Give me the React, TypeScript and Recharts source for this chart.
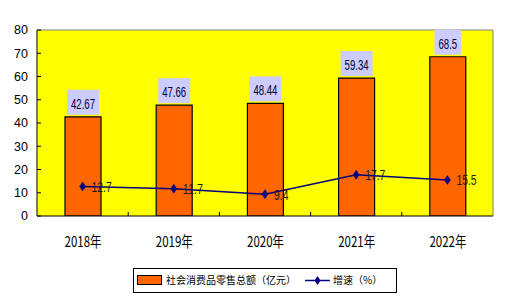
import React from 'react';
import {
  ComposedChart,
  Bar,
  Line,
  XAxis,
  YAxis,
  CartesianGrid,
  ReferenceLine,
  LabelList,
  Legend,
} from 'recharts';

const years = ['2018年', '2019年', '2020年', '2021年', '2022年'];
const sales = [42.67, 47.66, 48.44, 59.34, 68.5];
const growth = [12.7, 11.7, 9.4, 17.7, 15.5];
const yTicks = [0, 10, 20, 30, 40, 50, 60, 70, 80];
const salesName = '社会消费品零售总额（亿元）';
const growthName = '增速（%）';

const data = years.map((year, i) => ({
  x: i + 0.5,
  year,
  sales: sales[i],
  growth: growth[i],
}));

const xTicks: number[] = [];
for (let i = 0; i < years.length; i++) {
  xTicks.push(i + 0.5);
  if (i < years.length - 1) xTicks.push(i + 1);
}

const FONT = '"Liberation Sans", Arial, sans-serif';
const CJK = '"Noto Sans CJK SC", "Liberation Sans", sans-serif';

const textWidth = (s: string, digit: number, dot: number) =>
  s.split('').reduce((w, c) => w + (c === '.' ? dot : digit), 0);

const XTick = (props: any) => {
  const { x, y, payload } = props;
  const v = payload.value;
  if (Number.isInteger(v)) {
    return <line x1={x} x2={x} y1={y} y2={y - 4} stroke="#000" strokeWidth={1} />;
  }
  const label = years[Math.floor(v)];
  return (
    <text
      x={x - 18}
      y={y + 31}
      fontSize={15}
      fontFamily={CJK}
      fill="#000"
      textLength={37}
      lengthAdjust="spacingAndGlyphs"
    >
      {label}
    </text>
  );
};

const BarLabel = (props: any) => {
  const { x, y, width, value } = props;
  const s = String(value);
  const tw = textWidth(s, 5.3, 2.8);
  const bw = tw + 8;
  const cx = x + width / 2;
  return (
    <g>
      <rect x={cx - bw / 2} y={y - 27} width={bw} height={25} fill="#CCCCFF" />
      <text
        x={cx - tw / 2}
        y={y - 8}
        fontSize={15}
        fontFamily={FONT}
        fill="#000033"
        textLength={tw}
        lengthAdjust="spacingAndGlyphs"
      >
        {s}
      </text>
    </g>
  );
};

const LineLabel = (props: any) => {
  const { x, y, value } = props;
  const s = String(value);
  const tw = textWidth(s, 5.7, 3);
  return (
    <text
      x={x + 9}
      y={y + 5.5}
      fontSize={14}
      fontFamily={FONT}
      fill="#1a1a1a"
      textLength={tw}
      lengthAdjust="spacingAndGlyphs"
    >
      {s}
    </text>
  );
};

const Diamond = (props: any) => {
  const { cx, cy } = props;
  if (cx == null || cy == null) return null;
  return (
    <polygon
      points={`${cx},${cy - 4.5} ${cx + 3},${cy} ${cx},${cy + 4.5} ${cx - 3},${cy}`}
      fill="#000080"
      stroke="#000080"
      strokeWidth={0.5}
    />
  );
};

const LegendContent = () => (
  <div
    style={{
      width: 264,
      height: 25,
      boxSizing: 'border-box',
      border: '1px solid #000',
      background: '#fff',
      position: 'relative',
      fontFamily: CJK,
      fontSize: 10,
      color: '#000',
    }}
  >
    <div
      style={{
        position: 'absolute',
        left: 3,
        top: 6,
        width: 25,
        height: 10,
        boxSizing: 'border-box',
        background: '#FF6600',
        border: '1px solid #000',
      }}
    />
    <div style={{ position: 'absolute', left: 32, top: 4, lineHeight: '14px', whiteSpace: 'nowrap' }}>
      {salesName}
    </div>
    <svg style={{ position: 'absolute', left: 171, top: 5 }} width={26} height={13}>
      <line x1={0} x2={25} y1={6.5} y2={6.5} stroke="#000080" strokeWidth={1.5} />
      <polygon points="12.5,2 15.5,6.5 12.5,11 9.5,6.5" fill="#000080" />
    </svg>
    <div style={{ position: 'absolute', left: 199, top: 4, lineHeight: '14px', whiteSpace: 'nowrap' }}>
      {growthName}
    </div>
  </div>
);

export default function App() {
  return (
    <div style={{ position: 'absolute', left: 0, top: 0, width: 508, height: 304, background: '#fff' }}>
      <ComposedChart
        width={508}
        height={304}
        data={data}
        margin={{ top: 30, right: 15, left: 0, bottom: 0 }}
      >
        <CartesianGrid horizontal={false} vertical={false} fill="#FFFF00" />
        <XAxis
          type="number"
          dataKey="x"
          domain={[0, 5]}
          ticks={xTicks}
          interval={0}
          height={88}
          tickLine={false}
          tickSize={0}
          tickMargin={0}
          axisLine={{ stroke: '#000', strokeWidth: 1 }}
          tick={<XTick />}
          allowDataOverflow
        />
        <YAxis
          domain={[0, 80]}
          ticks={yTicks}
          interval={0}
          width={37}
          tickSize={-4}
          tickMargin={13}
          axisLine={{ stroke: '#000', strokeWidth: 1 }}
          tickLine={{ stroke: '#000', strokeWidth: 1 }}
          tick={{ fontSize: 12.5, fill: '#000', fontFamily: FONT }}
          allowDataOverflow
        />
        <ReferenceLine y={80} stroke="#808080" strokeWidth={1} />
        <ReferenceLine x={5} stroke="#808080" strokeWidth={1} />
        <Bar
          dataKey="sales"
          name={salesName}
          barSize={36}
          fill="#FF6600"
          stroke="#000"
          strokeWidth={1.2}
          isAnimationActive={false}
        >
          <LabelList dataKey="sales" content={<BarLabel />} />
        </Bar>
        <Line
          dataKey="growth"
          name={growthName}
          stroke="#000080"
          strokeWidth={1.5}
          dot={<Diamond />}
          activeDot={false}
          isAnimationActive={false}
        >
          <LabelList dataKey="growth" content={<LineLabel />} />
        </Line>
        <Legend
          layout="vertical"
          verticalAlign="middle"
          align="center"
          content={<LegendContent />}
          wrapperStyle={{ position: 'absolute', left: 133, top: 268, width: 264, height: 25 }}
        />
      </ComposedChart>
    </div>
  );
}
